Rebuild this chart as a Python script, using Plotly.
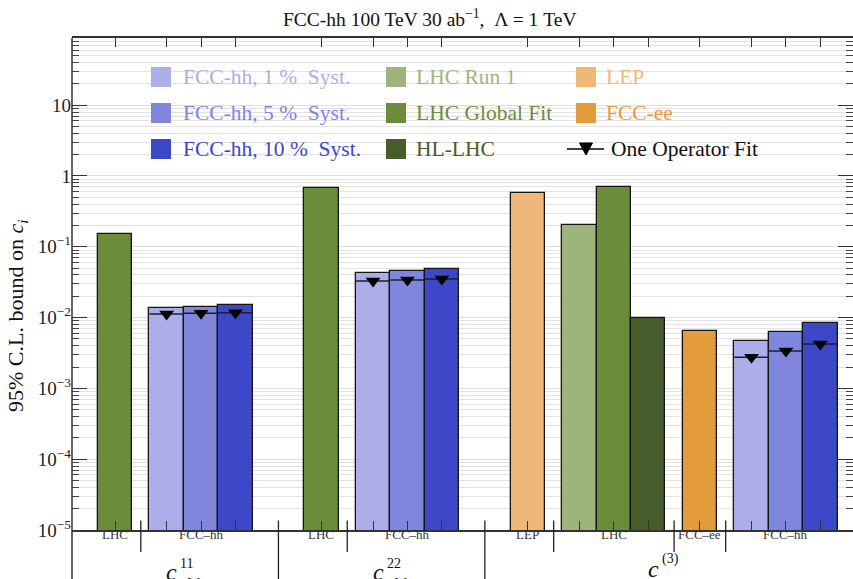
import plotly.graph_objects as go

# ---------------------------------------------------------------
# 95% C.L. bounds on the Wilson coefficients (Lambda = 1 TeV)
# ---------------------------------------------------------------
coefficients = ["cuW11", "cuW22", "cphiq3"]

lep_bound = [None, None, 0.569]
lhc_run1_bound = [None, None, 0.20]
lhc_global_bound = [0.150, 0.670, 0.706]
hl_lhc_bound = [None, None, 0.0100]
fcc_ee_bound = [None, None, 0.00647]
fcc_hh_1pct = [0.0135, 0.0422, 0.00467]
fcc_hh_5pct = [0.01426, 0.0455, 0.0063]
fcc_hh_10pct = [0.01506, 0.0481, 0.0083]
one_op_1pct = [0.01125, 0.0329, 0.00275]
one_op_5pct = [0.0115, 0.0340, 0.00337]
one_op_10pct = [0.0117, 0.0351, 0.00424]

series_labels = {
    "fcc1": "FCC-hh, 1 %  Syst.",
    "fcc5": "FCC-hh, 5 %  Syst.",
    "fcc10": "FCC-hh, 10 %  Syst.",
    "run1": "LHC Run 1",
    "glob": "LHC Global Fit",
    "hl": "HL-LHC",
    "lep": "LEP",
    "fccee": "FCC-ee",
    "oneop": "One Operator Fit",
}
subgroup_labels = {"LEP": "LEP", "LHC": "LHC", "FCC-ee": "FCC\u2013ee", "FCC-hh": "FCC\u2013hh"}

colors = {
    "fcc1": "#abaee8", "fcc5": "#8086db", "fcc10": "#3d48c8",
    "run1": "#9db47d", "glob": "#6a8c3b", "hl": "#465c2a",
    "lep": "#eeb978", "fccee": "#e49b3a",
}

values = {
    "lep": lep_bound, "run1": lhc_run1_bound, "glob": lhc_global_bound,
    "hl": hl_lhc_bound, "fccee": fcc_ee_bound,
    "fcc1": fcc_hh_1pct, "fcc5": fcc_hh_5pct, "fcc10": fcc_hh_10pct,
}
one_op = {"fcc1": one_op_1pct, "fcc5": one_op_5pct, "fcc10": one_op_10pct}

# order of experiments inside each coefficient block
subgroups = [
    ("LEP", ["lep"]),
    ("LHC", ["run1", "glob", "hl"]),
    ("FCC-ee", ["fccee"]),
    ("FCC-hh", ["fcc1", "fcc5", "fcc10"]),
]

# ---------------- compute bar positions -----------------------
BAR_W = 1.0
SUB_GAP = 0.5
GROUP_GAP = 1.5

bar_pos = {k: [] for k in values}       # (x, value, coefficient index)
sub_spans = []                          # (label, xmin, xmax)
group_spans = []                        # (coef index, xmin, xmax)
x = 0.0
for gi, coef in enumerate(coefficients):
    g_start = None
    first_sub = True
    for sub_name, keys in subgroups:
        present = [k for k in keys if values[k][gi] is not None]
        if not present:
            continue
        if not first_sub:
            x += SUB_GAP
        first_sub = False
        s_start = x
        for k in present:
            bar_pos[k].append((x + BAR_W / 2, values[k][gi], gi))
            x += BAR_W
        sub_spans.append((sub_name, s_start, x))
        if g_start is None:
            g_start = s_start
    group_spans.append((gi, g_start, x))
    x += GROUP_GAP

# shift so that the first bar is centred on 0
shift = -(group_spans[0][1] + BAR_W / 2)
bar_pos = {k: [(p + shift, v, g) for p, v, g in lst] for k, lst in bar_pos.items()}
sub_spans = [(n, a + shift, b + shift) for n, a, b in sub_spans]
group_spans = [(g, a + shift, b + shift) for g, a, b in group_spans]

X_RANGE = [-1.25, 21.45]
Y_RANGE = [-5, 1.949]

W, H = 853, 579
ML, MR, MT, MB = 72, 0, 38, 49
PW, PH = W - ML - MR, H - MT - MB


def px(xp):
    return (xp - ML) / PW


def py(yp):
    return (MT + PH - yp) / PH


SERIF = "Liberation Serif, DejaVu Serif, serif"

fig = go.Figure()

# bars
for k in ["lep", "run1", "glob", "hl", "fccee", "fcc1", "fcc5", "fcc10"]:
    pts = bar_pos[k]
    fig.add_trace(go.Bar(
        x=[p for p, _, _ in pts], y=[v for _, v, _ in pts], width=BAR_W,
        marker=dict(color=colors[k], line=dict(color="#151515", width=1.3)),
        name=series_labels[k], showlegend=False,
    ))

# one-operator fit: a line across each FCC-hh bar plus a marker
lx, ly, mx, my = [], [], [], []
for k in ["fcc1", "fcc5", "fcc10"]:
    for p, _, g in bar_pos[k]:
        v = one_op[k][g]
        lx += [p - BAR_W / 2, p + BAR_W / 2, None]
        ly += [v, v, None]
        mx.append(p)
        my.append(v)
fig.add_trace(go.Scatter(x=lx, y=ly, mode="lines", line=dict(color="#1c1f33", width=1.6),
                         showlegend=False, hoverinfo="skip"))
fig.add_trace(go.Scatter(x=mx, y=my, mode="markers",
                         marker=dict(symbol="triangle-down", size=13, color="black"),
                         name=series_labels["oneop"], showlegend=False))

# ---------------- axes ----------------------------------------
all_centres = sorted(p for lst in bar_pos.values() for p, _, _ in lst)
fig.update_xaxes(
    range=X_RANGE, showgrid=False, zeroline=False,
    showline=True, linecolor="#333333", linewidth=1.5, mirror="ticks",
    tickmode="array", tickvals=all_centres, showticklabels=False,
    ticks="inside", ticklen=9, tickwidth=1.2, tickcolor="#333333",
)
major = [10.0 ** e for e in range(-5, 2)]
minor = [m * 10.0 ** e for e in range(-5, 2) for m in range(2, 10)]
fig.update_yaxes(
    type="log", range=Y_RANGE, zeroline=False, showline=False, mirror="ticks",
    tickmode="array", tickvals=major,
    ticktext=["10<sup>\u22125</sup>", "10<sup>\u22124</sup>", "10<sup>\u22123</sup>",
              "10<sup>\u22122</sup>", "10<sup>\u22121</sup>", "1", "10"],
    ticks="inside", ticklen=15, tickwidth=1.2, tickcolor="#333333",
    showgrid=True, gridcolor="#dedede", gridwidth=1.3,
    tickfont=dict(family=SERIF, size=19, color="#222222"),
    minor=dict(tickmode="array", tickvals=minor, ticks="inside", ticklen=7,
               tickwidth=1, tickcolor="#444444", showgrid=True,
               gridcolor="#e2e2e2", gridwidth=1.3),
)

shapes = []
annotations = []

# left spine, running down through the category area
shapes.append(dict(type="line", xref="paper", yref="paper", x0=0, x1=0,
                   y0=1, y1=py(H + 5), line=dict(color="#333333", width=1.5)))

# category separators below the axis
sub_bounds = set()
for i in range(len(sub_spans) - 1):
    a = sub_spans[i][2]
    b = sub_spans[i + 1][1]
    sub_bounds.add(round((a + b) / 2, 6))
grp_bounds = set()
for i in range(len(group_spans) - 1):
    a = group_spans[i][2]
    b = group_spans[i + 1][1]
    grp_bounds.add(round((a + b) / 2, 6))
for xb in sorted(sub_bounds - grp_bounds):
    shapes.append(dict(type="line", xref="x", yref="paper", x0=xb, x1=xb,
                       y0=py(520.5), y1=py(552), line=dict(color="#222222", width=1.3)))
for xb in sorted(grp_bounds):
    shapes.append(dict(type="line", xref="x", yref="paper", x0=xb, x1=xb,
                       y0=py(520.5), y1=py(H + 5), line=dict(color="#222222", width=1.3)))

# experiment labels
for name, a, b in sub_spans:
    annotations.append(dict(x=(a + b) / 2, y=py(544), xref="x", yref="paper",
                            text=subgroup_labels[name], showarrow=False,
                            font=dict(family=SERIF, size=13, color="#333333")))

# coefficient labels (c with stacked super/subscripts)
coef_scripts = [("11", "uW", 0.15), ("22", "uW", 0.15), ("(3)", "\u03c6q", -0.35)]
for gi, a, b in group_spans:
    sup, sub, dx = coef_scripts[gi]
    cx = (a + b) / 2 + dx
    annotations.append(dict(x=cx, y=py(557 if gi < 2 else 554), xref="x", yref="paper",
                            xanchor="right", yanchor="top", xshift=-1,
                            text="<i>c</i>", showarrow=False,
                            font=dict(family=SERIF, size=24, color="#111111")))
    annotations.append(dict(x=cx, y=py(554 if gi < 2 else 549), xref="x", yref="paper",
                            xanchor="left", yanchor="top", xshift=-2,
                            text=sup, showarrow=False,
                            font=dict(family=SERIF, size=14, color="#111111")))
    annotations.append(dict(x=cx, y=py(574), xref="x", yref="paper",
                            xanchor="left", yanchor="top", xshift=-2,
                            text="<i>%s</i>" % sub, showarrow=False,
                            font=dict(family=SERIF, size=14, color="#111111")))

# legend panel
shapes.append(dict(type="rect", xref="paper", yref="paper", layer="between",
                   x0=px(146), x1=px(789), y0=py(167), y1=py(53),
                   fillcolor="white", line=dict(width=0)))
legend_cells = [
    ("fcc1", 151, 181, 77), ("fcc5", 151, 181, 113), ("fcc10", 151, 181, 149),
    ("run1", 386, 414, 77), ("glob", 386, 414, 113), ("hl", 386, 414, 149),
    ("lep", 576, 604, 77), ("fccee", 576, 604, 113),
]
for k, sx, tx, cy in legend_cells:
    shapes.append(dict(type="rect", xref="paper", yref="paper", layer="above",
                       x0=px(sx), x1=px(sx + 20), y0=py(cy + 10), y1=py(cy - 10),
                       fillcolor=colors[k], line=dict(width=0)))
    annotations.append(dict(x=px(tx), y=py(cy), xref="paper", yref="paper",
                            xanchor="left", yanchor="middle", showarrow=False,
                            text=series_labels[k],
                            font=dict(family=SERIF, size=21.5, color=colors[k])))
# one-operator-fit legend entry
shapes.append(dict(type="line", xref="paper", yref="paper", layer="above",
                   x0=px(567), x1=px(604), y0=py(149), y1=py(149),
                   line=dict(color="black", width=1.5)))
tri = "M {:.5f},{:.5f} L {:.5f},{:.5f} L {:.5f},{:.5f} Z".format(
    px(579.5), py(143), px(592.5), py(143), px(586), py(155))
shapes.append(dict(type="path", xref="paper", yref="paper", layer="above", path=tri,
                   fillcolor="black", line=dict(color="black", width=1)))
annotations.append(dict(x=px(609), y=py(149), xref="paper", yref="paper",
                        xanchor="left", yanchor="middle", showarrow=False,
                        text=series_labels["oneop"],
                        font=dict(family=SERIF, size=21.5, color="#111111")))

# title and y label
annotations.append(dict(x=px(430), y=py(18), xref="paper", yref="paper",
                        xanchor="center", yanchor="middle", showarrow=False,
                        text="FCC-hh 100 TeV 30 ab<sup>\u22121</sup>,  \u039b = 1 TeV",
                        font=dict(family=SERIF, size=19.5, color="#111111")))
annotations.append(dict(x=px(17), y=py(316), xref="paper", yref="paper",
                        xanchor="center", yanchor="middle", showarrow=False,
                        textangle=-90,
                        text="95% C.L. bound on <i>c<sub>i</sub></i>",
                        font=dict(family=SERIF, size=22, color="#111111")))

fig.update_layout(
    width=W, height=H, margin=dict(l=ML, r=MR, t=MT, b=MB),
    paper_bgcolor="white", plot_bgcolor="white",
    barmode="overlay", bargap=0, showlegend=False,
    shapes=shapes, annotations=annotations,
)

fig.write_html("out.html")
